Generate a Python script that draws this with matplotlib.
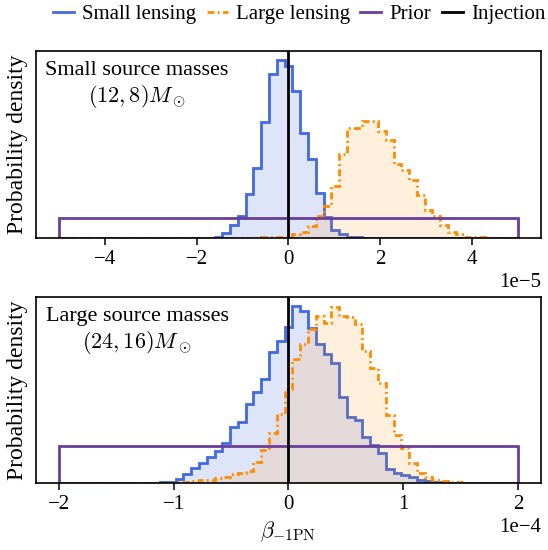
import numpy as np
import matplotlib
matplotlib.use("Agg")
import matplotlib.pyplot as plt
from matplotlib.lines import Line2D

plt.rcParams['font.family'] = ['Liberation Serif', 'DejaVu Serif']
plt.rcParams['mathtext.fontset'] = 'cm'

# histogram grid: 59 bins over the prior range (values in units of 1e4 density)
n_edges = 60
top_range = (-5e-5, 5e-5)
bot_range = (-2e-4, 2e-4)

# top panel: small source masses
top_small = [0, 0, 0, 0, 0, 0, 0, 0, 0, 0,
             0, 0, 0, 0, 0, 0, 0, 0, 0.01, 0.02,
             0.035, 0.235, 0.65, 1.115, 2.2, 3.515, 5.85, 8.235, 8.95, 8.65,
             7.4, 5.3, 3.95, 2.25, 1.05, 0.4, 0.185, 0.035, 0.025, 0.015,
             0, 0, 0, 0, 0, 0, 0, 0, 0, 0,
             0, 0, 0, 0, 0, 0, 0, 0, 0]
top_large = [0, 0, 0, 0, 0, 0, 0, 0, 0, 0,
             0, 0, 0, 0, 0, 0, 0, 0, 0, 0,
             0, 0, 0, 0, 0, 0.015, 0.025, 0.035, 0.05, 0.065,
             0.185, 0.315, 0.615, 1.115, 1.615, 2.615, 4.235, 5.535, 5.535, 5.9,
             5.9, 5.4, 4.9, 3.735, 3.4, 2.9, 2.15, 1.4, 1.1, 0.65,
             0.315, 0.185, 0.065, 0.035, 0.025, 0.02, 0.015, 0.01, 0]
top_prior = [1.0]

# bottom panel: large source masses
bot_small = [0, 0, 0, 0, 0, 0, 0, 0, 0, 0,
             0, 0, 0.002, 0.004, 0.009, 0.025, 0.058, 0.098, 0.135, 0.175,
             0.215, 0.271, 0.375, 0.409, 0.531, 0.609, 0.698, 0.875, 0.953, 1.042,
             1.187, 1.153, 1.040, 0.933, 0.867, 0.807, 0.573, 0.440, 0.420, 0.307,
             0.253, 0.200, 0.093, 0.067, 0.053, 0.038, 0.020, 0.013, 0.007, 0.004,
             0.003, 0.002, 0, 0, 0, 0, 0, 0, 0]
bot_large = [0, 0, 0, 0, 0, 0, 0, 0, 0, 0,
             0, 0, 0.0013, 0.002, 0.003, 0.005, 0.008, 0.012, 0.017, 0.023,
             0.033, 0.043, 0.058, 0.069, 0.082, 0.140, 0.220, 0.333, 0.460, 0.633,
             0.833, 0.933, 1.033, 1.120, 1.073, 1.180, 1.120, 1.113, 1.067, 0.887,
             0.773, 0.673, 0.453, 0.320, 0.233, 0.133, 0.067, 0.040, 0.020, 0.013,
             0.008, 0.005, 0.003, 0.003, 0.002, 0.001, 0, 0, 0]
bot_prior = [0.25]

top_ticks = [-4e-5, -2e-5, 0, 2e-5, 4e-5]
bot_ticks = [-2e-4, -1e-4, 0, 1e-4, 2e-4]
injection = 0.0

labels = ['Small lensing', 'Large lensing', 'Prior', 'Injection']
panel_notes = ['Small source masses\n$(12, 8)M_\\odot$',
               'Large source masses\n$(24, 16)M_\\odot$']

c_small = '#4169e1'
c_large = '#ff8c00'
c_prior = '#6a3d9a'
dashdot = (0, (2.5, 1.2, 0.7, 1.2))


def draw_panel(ax, rng, small, large, prior, ticks, note):
    edges = np.linspace(rng[0], rng[1], n_edges)
    small = np.array(small) * 1e4
    large = np.array(large) * 1e4
    ax.stairs(small, edges, fill=True, color=c_small, alpha=0.17, lw=0)
    ax.stairs(small, edges, color=c_small, lw=2)
    ax.stairs(large, edges, fill=True, color=c_large, alpha=0.13, lw=0)
    ax.stairs(large, edges, color=c_large, lw=2, linestyle=dashdot)
    ax.stairs(np.array(prior) * 1e4, list(rng), color=c_prior, lw=2)
    ax.axvline(injection, color='black', lw=2)
    ax.set_xticks(ticks)
    ax.ticklabel_format(axis='x', style='sci', scilimits=(0, 0))
    ax.xaxis.get_offset_text().set_fontsize(15)
    ax.set_yticks([])
    ax.tick_params(axis='x', labelsize=15, length=5, width=1.1)
    ax.set_ylabel('Probability density', fontsize=17, labelpad=6)
    for s in ax.spines.values():
        s.set_linewidth(1.2)
    ax.text(0.2, 0.945, note, transform=ax.transAxes, ha='center', va='top',
            multialignment='center', fontsize=16, linespacing=1.15)


fig = plt.figure(figsize=(5.48, 5.5), dpi=100)
ax1 = fig.add_axes([0.0657, 0.5673, 0.9215, 0.340])
ax2 = fig.add_axes([0.0657, 0.1218, 0.9215, 0.3382])

draw_panel(ax1, top_range, top_small, top_large, top_prior, top_ticks, panel_notes[0])
draw_panel(ax2, bot_range, bot_small, bot_large, bot_prior, bot_ticks, panel_notes[1])
ax2.set_xlabel('$\\beta_{-1\\mathrm{PN}}$', fontsize=16, labelpad=4)

handles = [Line2D([], [], color=c_small, lw=2),
           Line2D([], [], color=c_large, lw=2, linestyle=dashdot),
           Line2D([], [], color=c_prior, lw=2),
           Line2D([], [], color='black', lw=2)]
fig.legend(handles, labels, loc='center', bbox_to_anchor=(0.546, 0.974),
           ncol=4, frameon=False, fontsize=15, handlelength=1.0,
           handletextpad=0.4, columnspacing=0.5, borderaxespad=0, borderpad=0)

fig.savefig('out.png', dpi=100)
